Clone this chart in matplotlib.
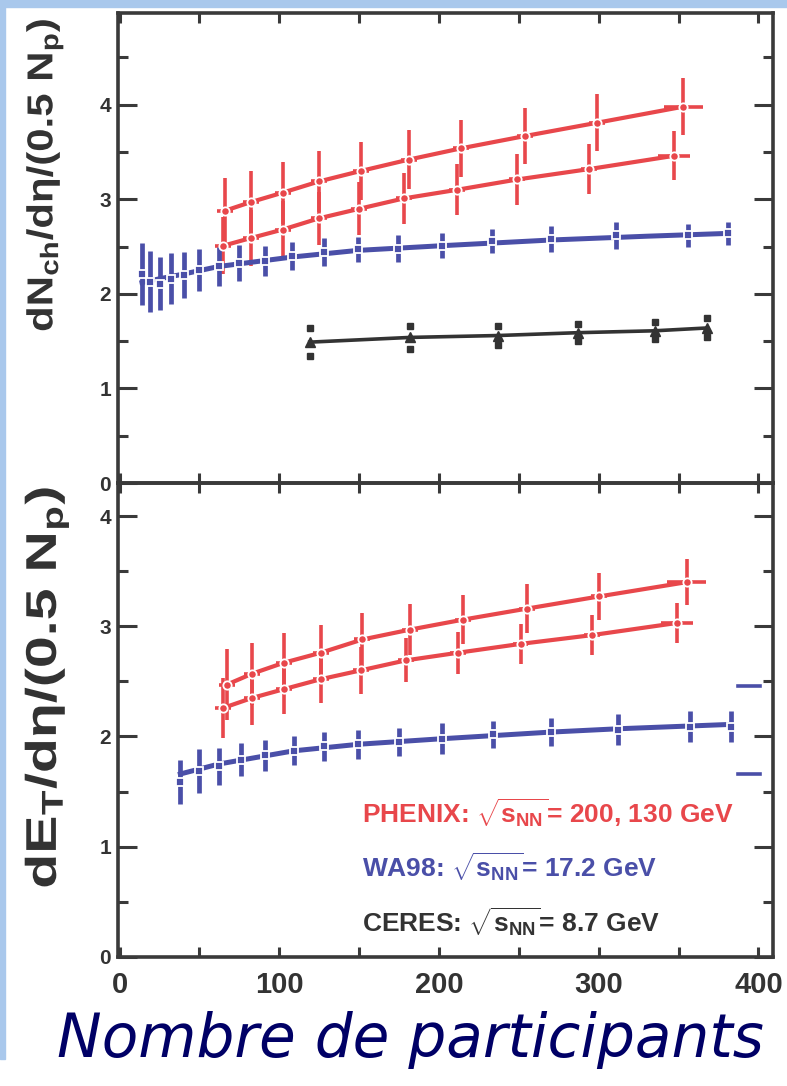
import numpy as np
import matplotlib
matplotlib.use("Agg")
import matplotlib.pyplot as plt
from matplotlib.patches import Rectangle
from matplotlib.ticker import MultipleLocator
from matplotlib.patheffects import AbstractPathEffect
from matplotlib.transforms import Affine2D

# ---- data ----
# top panel: dNch/deta/(0.5 Np)
nch_200_x = [66, 82, 102, 125, 151, 181, 214, 254, 299, 353]
nch_200_y = [2.88, 2.97, 3.07, 3.19, 3.30, 3.42, 3.54, 3.67, 3.81, 3.98]
nch_200_e = [0.35, 0.33, 0.33, 0.32, 0.31, 0.31, 0.30, 0.30, 0.30, 0.30]
nch_130_x = [65, 82, 102, 125, 150, 178, 211, 249, 294, 347]
nch_130_y = [2.51, 2.59, 2.68, 2.80, 2.90, 3.01, 3.10, 3.21, 3.32, 3.46]
nch_130_e = [0.30, 0.30, 0.30, 0.28, 0.28, 0.27, 0.27, 0.27, 0.26, 0.26]
nch_wa98_x = [14, 19, 25, 32, 40, 50, 62, 75, 91, 108, 128, 149, 174, 202, 233, 270, 311, 356, 381]
nch_wa98_y = [2.21, 2.13, 2.11, 2.16, 2.20, 2.25, 2.29, 2.33, 2.35, 2.40, 2.44, 2.47, 2.48, 2.51,
              2.56, 2.58, 2.62, 2.62, 2.64]
nch_wa98_e = [0.33, 0.32, 0.28, 0.27, 0.24, 0.22, 0.21, 0.19, 0.16, 0.15, 0.15, 0.13, 0.14, 0.13,
              0.13, 0.14, 0.14, 0.12, 0.12]
nch_wa98_fit_x = [14, 25, 40, 62, 108, 149, 202, 270, 330, 381]
nch_wa98_fit_y = [2.12, 2.16, 2.21, 2.29, 2.39, 2.46, 2.51, 2.57, 2.61, 2.64]
nch_ceres_x = [119, 182, 237, 287, 335, 368]
nch_ceres_y = [1.49, 1.54, 1.56, 1.59, 1.61, 1.64]
nch_ceres_e = [0.15, 0.12, 0.10, 0.09, 0.09, 0.10]

# bottom panel: dET/deta/(0.5 Np)
et_200_x = [67, 83, 103, 126, 152, 182, 215, 255, 300, 355]
et_200_y = [2.47, 2.57, 2.67, 2.76, 2.88, 2.97, 3.06, 3.16, 3.27, 3.40]
et_200_e = [0.32, 0.28, 0.27, 0.25, 0.24, 0.23, 0.22, 0.22, 0.21, 0.21]
et_130_x = [65, 83, 103, 126, 151, 179, 212, 251, 296, 349]
et_130_y = [2.26, 2.35, 2.43, 2.52, 2.60, 2.69, 2.76, 2.84, 2.92, 3.03]
et_130_e = [0.27, 0.25, 0.23, 0.22, 0.21, 0.20, 0.19, 0.18, 0.18, 0.18]
et_wa98_x = [38, 50, 62, 76, 91, 109, 128, 149, 175, 202, 234, 270, 312, 357, 383]
et_wa98_y = [1.59, 1.69, 1.73, 1.79, 1.83, 1.87, 1.91, 1.93, 1.95, 1.98, 2.02, 2.04, 2.06, 2.09, 2.09]
et_wa98_e = [0.20, 0.20, 0.17, 0.15, 0.14, 0.13, 0.13, 0.13, 0.13, 0.14, 0.12, 0.13, 0.14, 0.14, 0.14]
et_wa98_fit_x = [38, 62, 109, 150, 202, 270, 312, 383]
et_wa98_fit_y = [1.66, 1.75, 1.87, 1.93, 1.98, 2.04, 2.07, 2.11]
et_syst_y = [2.46, 1.66]
et_syst_x = [387, 401]

RED = "#e8474b"
BLUE = "#4a4fa8"
DARK = "#333333"
SPINE = "#3a3a3a"

plt.rcParams["font.family"] = ["Liberation Sans", "DejaVu Sans"]
plt.rcParams["mathtext.fontset"] = "custom"
plt.rcParams["mathtext.rm"] = "Liberation Sans:bold"
plt.rcParams["mathtext.it"] = "Liberation Sans:italic:bold"
plt.rcParams["mathtext.bf"] = "Liberation Sans:bold"


class Stretch(AbstractPathEffect):
    # stretch a rotated text along its length to the span it has in the original
    def __init__(self, length_px):
        super().__init__()
        self.length_px = length_px

    def draw_path(self, renderer, gc, tpath, affine, rgbFace=None):
        bb = tpath.get_extents(affine)
        cx, cy = bb.x0 + bb.width / 2, bb.y0 + bb.height / 2
        sy = self.length_px / bb.height
        extra = Affine2D().translate(-cx, -cy).scale(1.0, sy).translate(cx, cy)
        renderer.draw_path(gc, tpath, affine + extra, rgbFace)


fig = plt.figure(figsize=(7.87, 10.86), dpi=100)
ax1 = fig.add_axes([0.150, 0.5552, 0.832, 0.4328])
ax2 = fig.add_axes([0.150, 0.1188, 0.832, 0.4365])


def phenix(ax, x, y, e, xe):
    ax.errorbar(x, y, yerr=e, xerr=xe, fmt="none", ecolor=RED, elinewidth=2.6, capsize=0, zorder=2)
    ax.plot(x, y, color=RED, lw=3.0, zorder=3)
    ax.plot(x, y, "o", ms=6, mfc=RED, mec="white", mew=1.3, zorder=4)


def wa98(ax, x, y, e, fx, fy):
    ax.errorbar(x, y, yerr=e, fmt="none", ecolor=BLUE, elinewidth=3.4, capsize=0, zorder=2)
    ax.plot(fx, fy, color=BLUE, lw=3.6, zorder=3)
    ax.plot(x, y, "s", ms=5.5, mfc=BLUE, mec="white", mew=1.3, zorder=4)


xe_200 = [5] * 9 + [12]
xe_130 = [5] * 9 + [10]

phenix(ax1, nch_200_x, nch_200_y, nch_200_e, xe_200)
phenix(ax1, nch_130_x, nch_130_y, nch_130_e, xe_130)
wa98(ax1, nch_wa98_x, nch_wa98_y, nch_wa98_e, nch_wa98_fit_x, nch_wa98_fit_y)
ax1.plot(nch_ceres_x, nch_ceres_y, color=DARK, lw=2.6, marker="^", ms=7, zorder=3)
cy = np.array(nch_ceres_y)
ce = np.array(nch_ceres_e)
ax1.plot(nch_ceres_x, cy + ce, "s", color=DARK, ms=5, ls="none")
ax1.plot(nch_ceres_x, cy - ce, "s", color=DARK, ms=5, ls="none")

phenix(ax2, et_200_x, et_200_y, et_200_e, xe_200)
phenix(ax2, et_130_x, et_130_y, et_130_e, xe_130)
wa98(ax2, et_wa98_x, et_wa98_y, et_wa98_e, et_wa98_fit_x, et_wa98_fit_y)
for yv in et_syst_y:
    ax2.plot(et_syst_x, [yv, yv], color=BLUE, lw=2.6)

ax1.set_ylim(0, 4.97)
ax2.set_ylim(0, 4.30)
for ax in (ax1, ax2):
    ax.set_xlim(-1, 409)
    ax.xaxis.set_major_locator(MultipleLocator(100))
    ax.xaxis.set_minor_locator(MultipleLocator(50))
    ax.yaxis.set_major_locator(MultipleLocator(1))
    ax.yaxis.set_minor_locator(MultipleLocator(0.5))
    ax.tick_params(axis="both", which="both", direction="in", top=True, right=True,
                   color=SPINE, width=2.2)
    ax.tick_params(axis="y", which="major", length=14)
    ax.tick_params(axis="y", which="minor", length=7)
    ax.tick_params(axis="x", which="both", length=7)
    ax.tick_params(axis="y", labelsize=15, pad=5, labelcolor=DARK)
    for lab in ax.get_yticklabels():
        lab.set_fontweight("bold")
    for s in ax.spines.values():
        s.set_linewidth(2.6)
        s.set_color(SPINE)
    ax.patch.set_alpha(0)

ax1.tick_params(axis="x", labelbottom=False)
ax2.tick_params(axis="x", labelsize=21, pad=10, labelcolor=DARK)
for lab in ax2.get_xticklabels():
    lab.set_fontweight("bold")

fig.text(0.057, 0.839, "dN$_{\\mathbf{ch}}$/dη/(0.5 N$_{\\mathbf{p}}$)", rotation=90,
         ha="center", va="center", fontsize=26, fontweight="bold", color=DARK,
         path_effects=[Stretch(310)])
fig.text(0.060, 0.367, "dE$_{\\mathbf{T}}$/dη/(0.5 N$_{\\mathbf{p}}$)", rotation=90,
         ha="center", va="center", fontsize=31, fontweight="bold", color=DARK,
         path_effects=[Stretch(398)])

ax2.text(152, 1.30, r"PHENIX: $\sqrt{\mathrm{s}_{\mathrm{NN}}}$= 200, 130 GeV", color=RED,
         fontsize=19, fontweight="bold", ha="left", va="center")
ax2.text(152, 0.81, r"WA98: $\sqrt{\mathrm{s}_{\mathrm{NN}}}$= 17.2 GeV", color=BLUE,
         fontsize=19, fontweight="bold", ha="left", va="center")
ax2.text(152, 0.31, r"CERES: $\sqrt{\mathrm{s}_{\mathrm{NN}}}$= 8.7 GeV", color=DARK,
         fontsize=19, fontweight="bold", ha="left", va="center")

fig.text(0.522, 0.042, "Nombre de participants", ha="center", va="center", fontsize=43,
         style="italic", family="DejaVu Sans", color="#000066")

fig.patches.append(Rectangle((0, 0.025), 0.006, 0.975, transform=fig.transFigure,
                             color="#a9c8ec", zorder=0))
fig.patches.append(Rectangle((0, 0.994), 1, 0.006, transform=fig.transFigure,
                             color="#a9c8ec", zorder=0))

fig.savefig("out.png", dpi=100)
